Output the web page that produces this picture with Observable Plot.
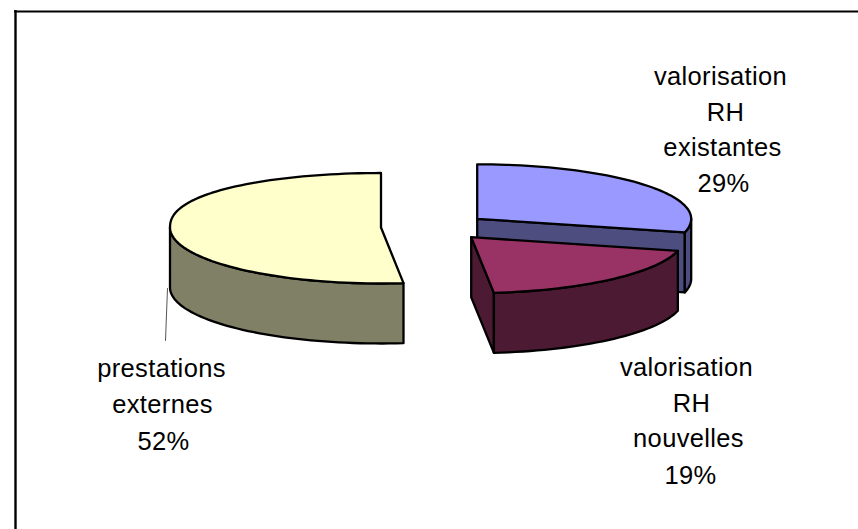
<!DOCTYPE html>
<html><head><meta charset="utf-8">
<style>html,body{margin:0;padding:0;background:#fff}svg{display:block}text{letter-spacing:.35px}</style>
<script src="https://cdn.jsdelivr.net/npm/d3@7"></script>
<script src="https://cdn.jsdelivr.net/npm/@observablehq/plot@0.6"></script>
</head><body><script>
// Data
const categories = ["valorisation RH existantes", "valorisation RH nouvelles", "prestations externes"];
const shares = [28.9, 19.4, 51.7];
const labelLines = [["valorisation", "RH", "existantes"], ["valorisation", "RH", "nouvelles"], ["prestations", "externes"]];

// Styles and layout of the 3D pie
const topColors = ["#9999ff", "#993366", "#ffffcc"];
const sideColors = ["#4d4d80", "#4d1a33", "#808066"];
const centers = [[476.7, 218.3], [470.7, 236.7], [380.5, 227]];
const radiusX = [214, 213, 211];
const radiusTop = 54.5, radiusBottom = 56, depth = 60;
const labelPlaces = [
  [[720, 81], [725, 117], [722, 152], [723, 188]],
  [[686, 372], [691, 408], [688, 443], [690, 480]],
  [[161, 373], [162, 409], [163, 446]]
];

const rad = d => d * Math.PI / 180;
const ends = d3.cumsum(shares).map(v => v * 3.6);
const starts = [0, ...ends.slice(0, -1)];
function rim(i, deg, drop = 0) {
  const [cx, cy] = centers[i], c = Math.cos(rad(deg)), s = Math.sin(rad(deg));
  // the far left quadrant bulges a little in the perspective of the original
  const k = c > 0 ? (s < 0 ? Math.pow(c, 0.88) : c) : c;
  return {x: cx + radiusX[i] * s, y: cy - (c > 0 ? radiusTop : radiusBottom) * k + drop};
}
function arc(i, a, b, drop = 0) {
  const n = Math.max(2, Math.ceil(Math.abs(b - a) / 2));
  return d3.range(n + 1).map(k => rim(i, a + (b - a) * k / n, drop));
}
const hub = (i, drop = 0) => ({x: centers[i][0], y: centers[i][1] + drop});
const poly = (pts, fill) => Plot.line(pts, {x: "x", y: "y", curve: "linear-closed", fill, stroke: "#000", strokeWidth: 2.3, strokeLinejoin: "round"});

const pieMarks = [];
categories.forEach((_, i) => {
  const a = starts[i], b = ends[i];
  if (i < 2) pieMarks.push(poly([hub(i), rim(i, b), rim(i, b, depth), hub(i, depth)], sideColors[i]));
  const f0 = Math.max(a, 90), f1 = Math.min(b, 270);
  if (f1 > f0) pieMarks.push(poly([...arc(i, f0, f1), ...arc(i, f1, f0, depth)], sideColors[i]));
  pieMarks.push(poly([hub(i), ...arc(i, a, b)], topColors[i]));
});

const texts = categories.flatMap((_, i) => [...labelLines[i], `${Math.round(shares[i])}%`].map((t, k) => ({t, x: labelPlaces[i][k][0], y: labelPlaces[i][k][1]})));

const chart = Plot.plot({
  width: 858, height: 529, margin: 0,
  x: {domain: [0, 858], range: [0, 858], axis: null},
  y: {domain: [0, 529], range: [0, 529], axis: null},
  style: {background: "#fff"},
  marks: [
    Plot.ruleY([11], {x1: 14, x2: 858, stroke: "#000", strokeWidth: 2.2}),
    Plot.ruleX([15], {y1: 10, y2: 529, stroke: "#000", strokeWidth: 2.4}),
    ...pieMarks,
    Plot.line([{x: 167, y: 288}, {x: 165, y: 340}], {x: "x", y: "y", stroke: "#555", strokeWidth: 1}),
    Plot.text(texts, {x: "x", y: "y", text: "t", textAnchor: "middle", lineAnchor: "bottom", dy: 3, fontFamily: "Liberation Sans", fontSize: 25.5, fill: "#000"})
  ]
});
document.body.appendChild(chart);
</script></body></html>
